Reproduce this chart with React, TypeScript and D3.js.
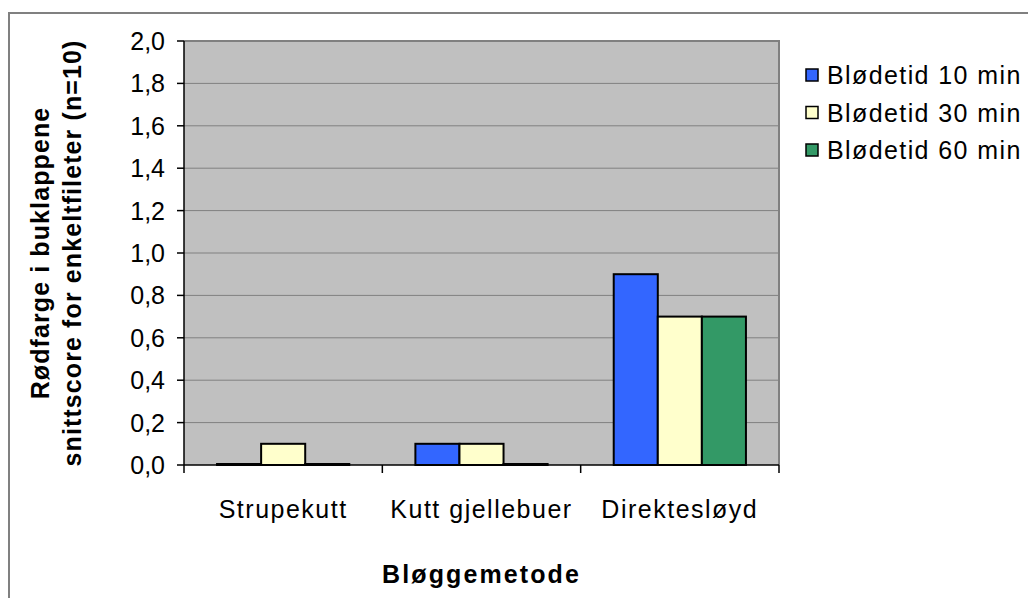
import React, { useEffect, useRef } from 'react';
import * as d3 from 'd3';

const categories = ['Strupekutt', 'Kutt gjellebuer', 'Direktesløyd'];
const seriesNames = ['Blødetid 10 min', 'Blødetid 30 min', 'Blødetid 60 min'];
const seriesColors = ['#3366FF', '#FFFFCC', '#339966'];
const bleed10 = [0, 0.1, 0.9];
const bleed30 = [0.1, 0.1, 0.7];
const bleed60 = [0, 0, 0.7];
const yTicks = [0, 0.2, 0.4, 0.6, 0.8, 1.0, 1.2, 1.4, 1.6, 1.8, 2.0];
const yTitleLines = ['Rødfarge i buklappene', 'snittscore for enkeltfileter (n=10)'];
const xTitle = 'Bløggemetode';

function App() {
  const svgRef = useRef<SVGSVGElement>(null);

  useEffect(() => {
    document.body.style.margin = '0';
    if (!svgRef.current) return;

    const width = 1028;
    const height = 598;
    const plot = { left: 184, right: 779, top: 41, bottom: 465 };
    const font = '"Liberation Sans", Arial, sans-serif';

    const svg = d3.select(svgRef.current);
    svg.selectAll('*').remove();
    svg.attr('width', width).attr('height', height);

    svg.append('rect')
      .attr('width', width).attr('height', height).attr('fill', 'white');

    // outer chart frame (runs off the page on right/bottom)
    svg.append('rect')
      .attr('x', 9).attr('y', 13)
      .attr('width', 1100).attr('height', 700)
      .attr('fill', 'none')
      .attr('stroke', '#808080')
      .attr('stroke-width', 2);

    const x = d3.scaleBand<string>()
      .domain(categories)
      .range([plot.left, plot.right])
      .paddingInner(0).paddingOuter(0);

    const xInner = d3.scaleBand<string>()
      .domain(seriesNames)
      .range([0, x.bandwidth()])
      .paddingInner(0).paddingOuter(0.75);

    const y = d3.scaleLinear().domain([0, 2]).range([plot.bottom, plot.top]);

    svg.append('rect')
      .attr('x', plot.left).attr('y', plot.top)
      .attr('width', plot.right - plot.left)
      .attr('height', plot.bottom - plot.top)
      .attr('fill', '#C0C0C0');

    // gridlines
    svg.append('g').selectAll('line')
      .data(yTicks.slice(1))
      .join('line')
      .attr('x1', plot.left).attr('x2', plot.right)
      .attr('y1', d => y(d)).attr('y2', d => y(d))
      .attr('stroke', '#808080').attr('stroke-width', 1);

    // plot border top / right
    svg.append('path')
      .attr('d', `M${plot.left},${plot.top}H${plot.right}V${plot.bottom}`)
      .attr('fill', 'none').attr('stroke', '#808080').attr('stroke-width', 2);

    // bars
    const values = [bleed10, bleed30, bleed60];
    const bars = seriesNames.flatMap((s, si) =>
      categories.map((c, ci) => ({ s, c, v: values[si][ci], color: seriesColors[si] })));

    svg.append('g').selectAll('rect')
      .data(bars)
      .join('rect')
      .attr('x', d => (x(d.c) as number) + (xInner(d.s) as number))
      .attr('width', xInner.bandwidth())
      .attr('y', d => Math.min(y(d.v), plot.bottom - 1))
      .attr('height', d => Math.max(plot.bottom - y(d.v), 1))
      .attr('fill', d => d.color)
      .attr('stroke', 'black').attr('stroke-width', 2);

    // axes
    svg.append('line')
      .attr('x1', plot.left).attr('x2', plot.left)
      .attr('y1', plot.top).attr('y2', plot.bottom)
      .attr('stroke', 'black').attr('stroke-width', 1.5);
    svg.append('line')
      .attr('x1', plot.left).attr('x2', plot.right)
      .attr('y1', plot.bottom).attr('y2', plot.bottom)
      .attr('stroke', 'black').attr('stroke-width', 1.5);

    const fmt = (d: number) => d.toFixed(1).replace('.', ',');

    const yt = svg.append('g').selectAll('g').data(yTicks).join('g')
      .attr('transform', d => `translate(0,${y(d)})`);
    yt.append('line')
      .attr('x1', plot.left - 7).attr('x2', plot.left)
      .attr('stroke', 'black').attr('stroke-width', 1.5);
    yt.append('text')
      .attr('x', 165).attr('dy', '0.36em')
      .attr('text-anchor', 'end')
      .attr('font-family', font).attr('font-size', 25)
      .text(fmt);

    const xTickPos = [...categories.map(c => x(c) as number), plot.right];
    svg.append('g').selectAll('line').data(xTickPos).join('line')
      .attr('x1', d => d).attr('x2', d => d)
      .attr('y1', plot.bottom).attr('y2', plot.bottom + 8)
      .attr('stroke', 'black').attr('stroke-width', 1.5);

    svg.append('g').selectAll('text').data(categories).join('text')
      .attr('x', d => (x(d) as number) + x.bandwidth() / 2)
      .attr('y', 518)
      .attr('text-anchor', 'middle')
      .attr('font-family', font).attr('font-size', 25)
      .attr('letter-spacing', 1.5)
      .text(d => d);

    svg.append('text')
      .attr('x', (plot.left + plot.right) / 2)
      .attr('y', 583)
      .attr('text-anchor', 'middle')
      .attr('font-family', font).attr('font-size', 25)
      .attr('font-weight', 'bold')
      .attr('letter-spacing', 2.1)
      .text(xTitle);

    const yMid = (plot.top + plot.bottom) / 2;
    svg.append('g').selectAll('text').data(yTitleLines).join('text')
      .attr('transform', (d, i) => `translate(${49 + i * 32},${yMid}) rotate(-90)`)
      .attr('text-anchor', 'middle')
      .attr('font-family', font).attr('font-size', 25)
      .attr('font-weight', 'bold')
      .attr('letter-spacing', 1.1)
      .text(d => d);

    // legend
    const legend = svg.append('g').selectAll('g').data(seriesNames).join('g')
      .attr('transform', (d, i) => `translate(806,${75 + i * 37.5})`);
    legend.append('rect')
      .attr('x', 0).attr('y', -6)
      .attr('width', 12).attr('height', 12)
      .attr('fill', (d, i) => seriesColors[i])
      .attr('stroke', 'black').attr('stroke-width', 1.5);
    legend.append('text')
      .attr('x', 21).attr('dy', '0.36em')
      .attr('font-family', font).attr('font-size', 25)
      .attr('letter-spacing', 1.4)
      .text(d => d);
  }, []);

  return (
    <div style={{ width: 1028, height: 598, overflow: 'hidden' }}>
      <svg ref={svgRef} style={{ display: 'block' }}></svg>
    </div>
  );
}

export default App;
